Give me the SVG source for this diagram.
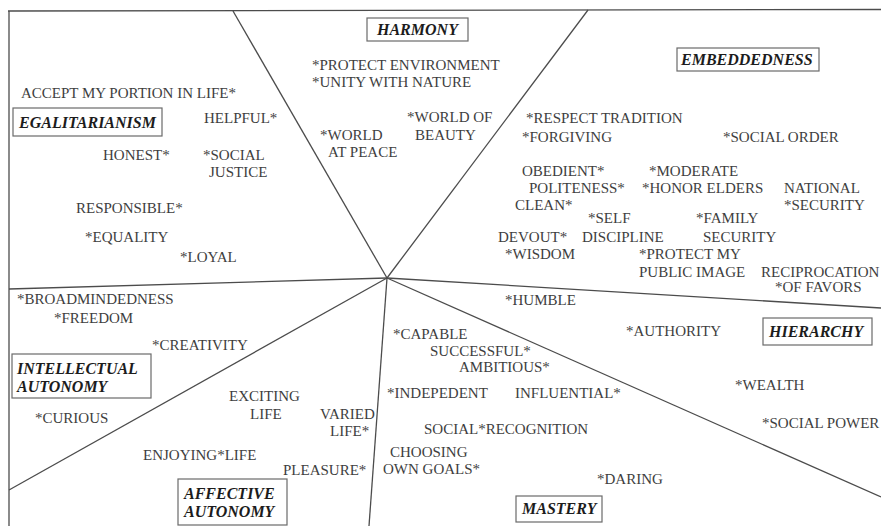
<svg xmlns="http://www.w3.org/2000/svg" width="881" height="526" viewBox="0 0 881 526">
<style>
.v{font-family:"Liberation Serif","Times New Roman",serif;font-size:15px;fill:#3e3e3e}
.lbl{font-family:"Liberation Serif","Times New Roman",serif;font-size:16px;font-weight:bold;font-style:italic;fill:#1c1c1c}
.box{fill:#fff;stroke:#6a6a6a;stroke-width:1.2}
.ln{stroke:#4c4c4c;stroke-width:1.3;fill:none}
</style>
<rect width="881" height="526" fill="#fff"/>
<g id="connectors">
<line class="ln" x1="8" y1="11" x2="881" y2="9.5"/>
<line class="ln" x1="9" y1="11" x2="9" y2="526"/>
<line class="ln" x1="387" y1="278" x2="233" y2="11"/>
<line class="ln" x1="387" y1="278" x2="588" y2="10"/>
<line class="ln" x1="387" y1="278" x2="9" y2="289"/>
<line class="ln" x1="387" y1="278" x2="9" y2="490"/>
<line class="ln" x1="387" y1="278" x2="369" y2="526"/>
<line class="ln" x1="387" y1="278" x2="881" y2="308"/>
<line class="ln" x1="387" y1="278" x2="881" y2="497"/>
</g>
<g id="egalitarianism">
<rect class="box" x="13" y="108" width="149" height="28"/>
<text class="lbl" x="19" y="128">EGALITARIANISM</text>
<text class="v" x="21" y="98">ACCEPT MY PORTION IN LIFE*</text>
<text class="v" x="204" y="123">HELPFUL*</text>
<text class="v" x="103" y="160">HONEST*</text>
<text class="v" x="203" y="160">*SOCIAL</text>
<text class="v" x="209" y="177">JUSTICE</text>
<text class="v" x="76" y="213">RESPONSIBLE*</text>
<text class="v" x="85" y="242">*EQUALITY</text>
<text class="v" x="180" y="262">*LOYAL</text>
</g>
<g id="harmony">
<rect class="box" x="367" y="18" width="101" height="23"/>
<text class="lbl" x="377" y="35">HARMONY</text>
<text class="v" x="312" y="70">*PROTECT ENVIRONMENT</text>
<text class="v" x="312" y="87">*UNITY WITH NATURE</text>
<text class="v" x="407" y="122">*WORLD OF</text>
<text class="v" x="415" y="140">BEAUTY</text>
<text class="v" x="320" y="140">*WORLD</text>
<text class="v" x="328" y="157">AT PEACE</text>
</g>
<g id="embeddedness">
<rect class="box" x="677" y="48" width="142" height="23"/>
<text class="lbl" x="681" y="65">EMBEDDEDNESS</text>
<text class="v" x="526" y="123">*RESPECT TRADITION</text>
<text class="v" x="522" y="142">*FORGIVING</text>
<text class="v" x="723" y="142">*SOCIAL ORDER</text>
<text class="v" x="522" y="176">OBEDIENT*</text>
<text class="v" x="649" y="176">*MODERATE</text>
<text class="v" x="529" y="193">POLITENESS*</text>
<text class="v" x="642" y="193">*HONOR ELDERS</text>
<text class="v" x="784" y="193">NATIONAL</text>
<text class="v" x="515" y="210">CLEAN*</text>
<text class="v" x="784" y="210">*SECURITY</text>
<text class="v" x="588" y="223">*SELF</text>
<text class="v" x="696" y="223">*FAMILY</text>
<text class="v" x="498" y="242">DEVOUT*</text>
<text class="v" x="582" y="242">DISCIPLINE</text>
<text class="v" x="703" y="242">SECURITY</text>
<text class="v" x="505" y="259">*WISDOM</text>
<text class="v" x="639" y="259">*PROTECT MY</text>
<text class="v" x="639" y="277">PUBLIC IMAGE</text>
<text class="v" x="761" y="277">RECIPROCATION</text>
<text class="v" x="775" y="292">*OF FAVORS</text>
</g>
<g id="hierarchy">
<rect class="box" x="763" y="318" width="109" height="27"/>
<text class="lbl" x="769" y="337">HIERARCHY</text>
<text class="v" x="505" y="305">*HUMBLE</text>
<text class="v" x="626" y="336">*AUTHORITY</text>
<text class="v" x="735" y="390">*WEALTH</text>
<text class="v" x="762" y="428">*SOCIAL POWER</text>
</g>
<g id="mastery">
<rect class="box" x="516" y="496" width="86" height="26"/>
<text class="lbl" x="522" y="514">MASTERY</text>
<text class="v" x="393" y="339">*CAPABLE</text>
<text class="v" x="430" y="356">SUCCESSFUL*</text>
<text class="v" x="459" y="372">AMBITIOUS*</text>
<text class="v" x="387" y="398">*INDEPEDENT</text>
<text class="v" x="515" y="398">INFLUENTIAL*</text>
<text class="v" x="424" y="434">SOCIAL*RECOGNITION</text>
<text class="v" x="390" y="457">CHOOSING</text>
<text class="v" x="383" y="474">OWN GOALS*</text>
<text class="v" x="597" y="484">*DARING</text>
</g>
<g id="intellectual-autonomy">
<rect class="box" x="12" y="354" width="139" height="44"/>
<text class="lbl" x="17" y="374">INTELLECTUAL</text>
<text class="lbl" x="17" y="392">AUTONOMY</text>
<text class="v" x="17" y="304">*BROADMINDEDNESS</text>
<text class="v" x="54" y="323">*FREEDOM</text>
<text class="v" x="152" y="350">*CREATIVITY</text>
<text class="v" x="35" y="423">*CURIOUS</text>
</g>
<g id="affective-autonomy">
<rect class="box" x="178" y="479" width="109" height="46"/>
<text class="lbl" x="184" y="499">AFFECTIVE</text>
<text class="lbl" x="184" y="517">AUTONOMY</text>
<text class="v" x="229" y="401">EXCITING</text>
<text class="v" x="250" y="419">LIFE</text>
<text class="v" x="320" y="419">VARIED</text>
<text class="v" x="330" y="436">LIFE*</text>
<text class="v" x="143" y="460">ENJOYING*LIFE</text>
<text class="v" x="283" y="475">PLEASURE*</text>
</g>
</svg>
